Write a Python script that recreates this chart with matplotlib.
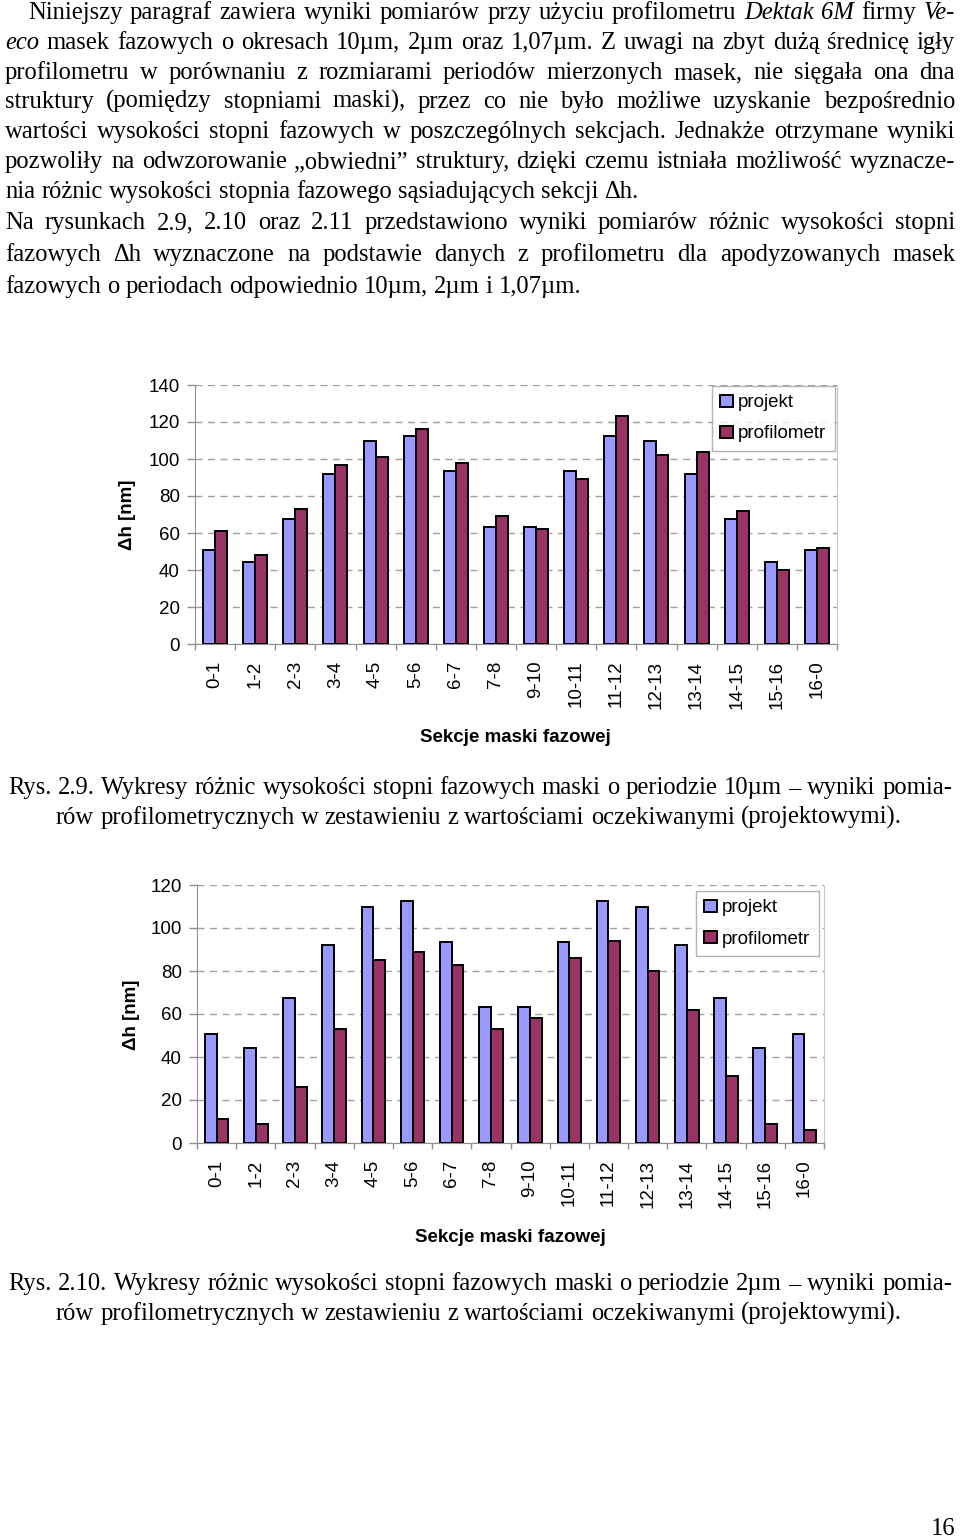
import matplotlib
matplotlib.use('Agg')
import matplotlib.pyplot as plt
from matplotlib.patches import Patch
import numpy as np

# ---------------- data ----------------
sections = ['0-1', '1-2', '2-3', '3-4', '4-5', '5-6', '6-7', '7-8',
            '9-10', '10-11', '11-12', '12-13', '13-14', '14-15', '15-16', '16-0']
projekt = [50.6, 44.2, 67.6, 92.0, 109.8, 112.5, 93.4, 63.3,
           63.3, 93.4, 112.5, 109.8, 92.0, 67.6, 44.2, 50.6]
profilometr_10um = [61, 48, 73, 97, 101, 116, 98, 69,
                    62, 89, 123, 102, 104, 72, 40, 52]
profilometr_2um = [11, 9, 26, 53, 85, 89, 83, 53,
                   58, 86, 94, 80, 62, 31, 9, 6]
series_labels = ['projekt', 'profilometr']
y_label = 'Δh [nm]'
x_label = 'Sekcje maski fazowej'

W, H = 960, 1537
fig = plt.figure(figsize=(W / 100, H / 100), dpi=100)
fig.patch.set_facecolor('white')

BLUE = '#9999FF'
RED = '#993366'
SANS = 'Liberation Sans'
SERIF = 'Liberation Serif'
TICK_FS = 13.5


def fx(x):
    return x / W


def fy(y):
    return 1 - y / H


def px_axes(l, t, r, b):
    return fig.add_axes([l / W, 1 - b / H, (r - l) / W, (b - t) / H])


def bar_chart(box, prof, ymax, legend_xy, ylab_xy, xlab_xy):
    ax = px_axes(*box)
    x = np.arange(len(sections))
    bw = 0.3
    ax.bar(x - bw / 2, projekt, bw, color=BLUE, edgecolor='black', linewidth=1.4, zorder=3)
    ax.bar(x + bw / 2, prof, bw, color=RED, edgecolor='black', linewidth=1.4, zorder=3)
    ax.set_xlim(-0.5, len(sections) - 0.5)
    ax.set_ylim(0, ymax)
    ax.set_yticks(np.arange(0, ymax + 1, 20))
    ax.yaxis.grid(True, linestyle=(0, (5, 4)), color='#a0a0a0', linewidth=1)
    ax.set_axisbelow(True)
    ax.set_xticks(x)
    ax.set_xticklabels(sections, rotation=90, fontsize=TICK_FS, family=SANS)
    ax.tick_params(axis='x', which='major', length=0, pad=12)
    ax.set_xticks(np.arange(-0.5, len(sections), 1), minor=True)
    ax.tick_params(axis='x', which='minor', length=4, color='#909090', width=1)
    ax.tick_params(axis='y', length=6, color='#909090', width=1, pad=5, labelsize=TICK_FS)
    for lab in ax.get_yticklabels():
        lab.set_family(SANS)
    for s in ['left', 'bottom']:
        ax.spines[s].set_color('#909090')
    ax.spines['right'].set_color('#c8c8c8')
    ax.spines['top'].set_visible(False)
    handles = [Patch(facecolor=BLUE, edgecolor='black', linewidth=1.4),
               Patch(facecolor=RED, edgecolor='black', linewidth=1.4)]
    leg = ax.legend(handles, series_labels, loc='upper left',
                    bbox_to_anchor=(fx(legend_xy[0]), fy(legend_xy[1])),
                    bbox_transform=fig.transFigure, borderaxespad=0,
                    prop={'family': SANS, 'size': 13.5}, frameon=True, fancybox=False,
                    handlelength=0.65, handleheight=0.65, handletextpad=0.3,
                    labelspacing=0.75, borderpad=0.45)
    leg.get_frame().set_edgecolor('#a0a0a0')
    leg.get_frame().set_linewidth(1)
    fig.text(fx(ylab_xy[0]), fy(ylab_xy[1]), y_label, rotation=90, ha='center', va='center',
             family=SANS, fontweight='bold', fontsize=13.5)
    fig.text(fx(xlab_xy[0]), fy(xlab_xy[1]), x_label, ha='center', va='center',
             family=SANS, fontweight='bold', fontsize=13.5)
    return ax


bar_chart((195, 385, 837, 644), profilometr_10um, 140, (712, 386), (127, 515), (515, 738))
bar_chart((197, 885, 824, 1143), profilometr_2um, 120, (696, 891), (131, 1015), (510, 1237))

# ---------------- text ----------------
renderer = fig.canvas.get_renderer()


def width(s, italic, size):
    t = fig.text(0, 0, s, fontsize=size, family=SERIF, style='italic' if italic else 'normal')
    w = t.get_window_extent(renderer).width
    t.remove()
    return w


def parse(line):
    out = []
    for w in line.split(' '):
        if w.startswith('*') and w.endswith('*') and len(w) > 2:
            out.append((w[1:-1], True))
        else:
            out.append((w, False))
    return out


paragraph = [
    ("Niniejszy paragraf zawiera wyniki pomiarów przy użyciu profilometru *Dektak* *6M* firmy *Ve-*", 28, 19, True),
    ("*eco* masek fazowych o okresach 10µm, 2µm oraz 1,07µm. Z uwagi na zbyt dużą średnicę igły", 5, 49, True),
    ("profilometru w porównaniu z rozmiarami periodów mierzonych masek, nie sięgała ona dna", 5, 79, True),
    ("struktury (pomiędzy stopniami maski), przez co nie było możliwe uzyskanie bezpośrednio", 5, 108, True),
    ("wartości wysokości stopni fazowych w poszczególnych sekcjach. Jednakże otrzymane wyniki", 5, 138, True),
    ("pozwoliły na odwzorowanie „obwiedni” struktury, dzięki czemu istniała możliwość wyznacze-", 5, 168, True),
    ("nia różnic wysokości stopnia fazowego sąsiadujących sekcji Δh.", 5, 198, False),
    ("Na rysunkach 2.9, 2.10 oraz 2.11 przedstawiono wyniki pomiarów różnic wysokości stopni", 5, 229, True),
    ("fazowych Δh wyznaczone na podstawie danych z profilometru dla apodyzowanych masek", 5, 261, True),
    ("fazowych o periodach odpowiednio 10µm, 2µm i 1,07µm.", 5, 293, False),
    ("Rys. 2.9. Wykresy różnic wysokości stopni fazowych maski o periodzie 10µm – wyniki pomia-", 8, 794, True),
    ("rów profilometrycznych w zestawieniu z wartościami oczekiwanymi (projektowymi).", 56, 824, False),
    ("Rys. 2.10. Wykresy różnic wysokości stopni fazowych maski o periodzie 2µm – wyniki pomia-", 8, 1290, True),
    ("rów profilometrycznych w zestawieniu z wartościami oczekiwanymi (projektowymi).", 56, 1320, False),
]

# fit font size so that a non-justified reference line has its observed width (5 -> 640 px)
base = 16.0
ref_words = parse(paragraph[6][0])
sp0 = width('a a', False, base) - width('aa', False, base)
nat = sum(width(w, it, base) for w, it in ref_words) + sp0 * (len(ref_words) - 1)
FS = base * 635.0 / nat
FS = min(max(FS, 14.0), 18.0)
space = width('a a', False, FS) - width('aa', False, FS)
RIGHT = 955

for line, x0, yb, justify in paragraph:
    words = parse(line)
    ws = [width(w, it, FS) for w, it in words]
    right = RIGHT if x0 != 8 else 952
    if justify and len(words) > 1:
        gap = (right - x0 - sum(ws)) / (len(words) - 1)
    else:
        gap = space
    x = x0
    for (w, it), wd in zip(words, ws):
        fig.text(fx(x), fy(yb), w, fontsize=FS, family=SERIF,
                 style='italic' if it else 'normal', ha='left', va='baseline')
        x += wd + gap

fig.text(fx(955), fy(1535), '16', fontsize=FS, family=SERIF, ha='right', va='baseline')

fig.savefig('out.png', dpi=100)
